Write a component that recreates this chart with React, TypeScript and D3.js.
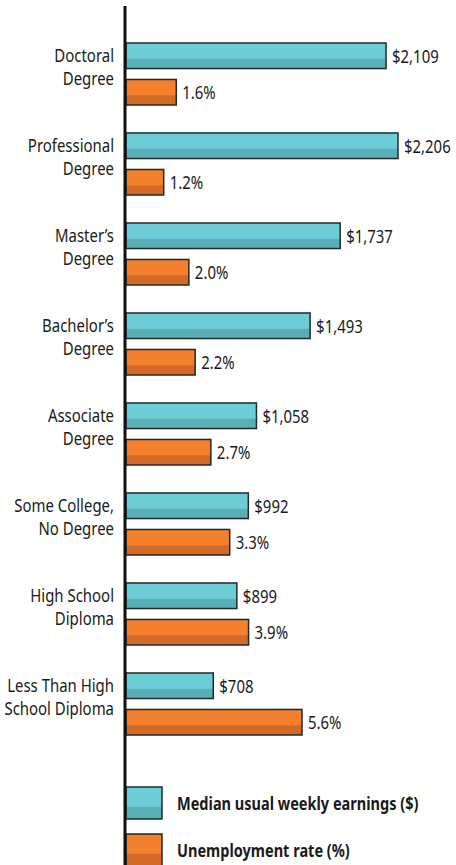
import * as d3 from 'd3';
import { useRef, useEffect } from 'react';

// Datos
const categories = [
  'Doctoral Degree',
  'Professional Degree',
  "Master's Degree",
  "Bachelor's Degree",
  'Associate Degree',
  'Some College, No Degree',
  'High School Diploma',
  'Less Than High School Diploma',
];
const categoryLines = [
  ['Doctoral', 'Degree'],
  ['Professional', 'Degree'],
  ['Master’s', 'Degree'],
  ['Bachelor’s', 'Degree'],
  ['Associate', 'Degree'],
  ['Some College,', 'No Degree'],
  ['High School', 'Diploma'],
  ['Less Than High', 'School Diploma'],
];
const earnings = [2109, 2206, 1737, 1493, 1058, 992, 899, 708];
const unemployment = [1.6, 1.2, 2.0, 2.2, 2.7, 3.3, 3.9, 5.6];
const seriesKeys = ['earnings', 'unemployment'];
const legendLabels = ['Median usual weekly earnings ($)', 'Unemployment rate (%)'];

const TEAL = '#6ccdd6';
const TEAL_DARK = '#5aaeb5';
const ORANGE = '#f47f2d';
const ORANGE_DARK = '#d36a28';
const FONT = "'Noto Sans', sans-serif";
const SQUEEZE = 0.83; // la fuente original es condensada

export default function App() {
  const svgRef = useRef<SVGSVGElement | null>(null);

  useEffect(() => {
    const width = 456;
    const height = 865;
    const x0 = 126;

    d3.select(svgRef.current).selectAll('*').remove();
    const svg = d3.select(svgRef.current).attr('width', width).attr('height', height);

    // Texto condensado: se posiciona con transform y se estrecha en X
    const addText = (x: number, y: number, txt: string, anchor = 'start', weight = 'normal', size = 18) =>
      svg
        .append('text')
        .attr('transform', `translate(${x},${y}) scale(${SQUEEZE},1)`)
        .attr('text-anchor', anchor)
        .attr('font-family', FONT)
        .attr('font-size', size)
        .attr('font-weight', weight)
        .attr('fill', '#1a1a1a')
        .text(txt);

    /* -- Escalas ------------------------------------------------------------ */
    const yGroup = d3.scaleBand<string>().domain(categories).range([43, 735]).paddingInner(0.311);
    const ySeries = d3.scaleBand<string>().domain(seriesKeys).range([0, yGroup.bandwidth()]).paddingInner(0.3);
    const xEarn = d3.scaleLinear().domain([0, 2206]).range([x0, 398]);
    const xUnemp = d3.scaleLinear().domain([0, 5.6]).range([x0, 302]);

    const drawBar = (x: number, y: number, w: number, h: number, fill: string, dark: string) => {
      svg.append('rect').attr('x', x).attr('y', y).attr('width', w).attr('height', h).attr('fill', fill);
      svg
        .append('rect')
        .attr('x', x)
        .attr('y', y + h * 0.62)
        .attr('width', w)
        .attr('height', h * 0.38)
        .attr('fill', dark);
      svg
        .append('rect')
        .attr('x', x)
        .attr('y', y)
        .attr('width', w)
        .attr('height', h)
        .attr('fill', 'none')
        .attr('stroke', '#1f2a2a')
        .attr('stroke-width', 1.5);
    };

    categories.forEach((c, i) => {
      const gy = yGroup(c) ?? 0;
      const bh = ySeries.bandwidth();

      // Barra de ingresos
      const ey = gy + (ySeries('earnings') ?? 0);
      drawBar(x0, ey, xEarn(earnings[i]) - x0, bh, TEAL, TEAL_DARK);
      addText(xEarn(earnings[i]) + 6, ey + bh / 2 + 7, '$' + d3.format(',')(earnings[i]));

      // Barra de desempleo
      const uy = gy + (ySeries('unemployment') ?? 0);
      drawBar(x0, uy, xUnemp(unemployment[i]) - x0, bh, ORANGE, ORANGE_DARK);
      addText(xUnemp(unemployment[i]) + 6, uy + bh / 2 + 7, d3.format('.1f')(unemployment[i]) + '%');

      // Etiqueta de categoría (dos líneas)
      categoryLines[i].forEach((line, j) => {
        addText(114, gy + 19 + j * 23, line, 'end');
      });
    });

    /* -- Leyenda ------------------------------------------------------------ */
    const legendY = [787, 834];
    legendLabels.forEach((l, i) => {
      drawBar(x0, legendY[i], 36, 32, i === 0 ? TEAL : ORANGE, i === 0 ? TEAL_DARK : ORANGE_DARK);
      addText(177, legendY[i] + 23, l, 'start', 'bold', 17.5);
    });

    // Eje vertical
    svg
      .append('line')
      .attr('x1', 125)
      .attr('x2', 125)
      .attr('y1', 6)
      .attr('y2', height)
      .attr('stroke', '#111')
      .attr('stroke-width', 3);
  }, []);

  return (
    <div style={{ position: 'absolute', left: 0, top: 0 }}>
      <svg ref={svgRef} style={{ display: 'block' }} />
    </div>
  );
}
